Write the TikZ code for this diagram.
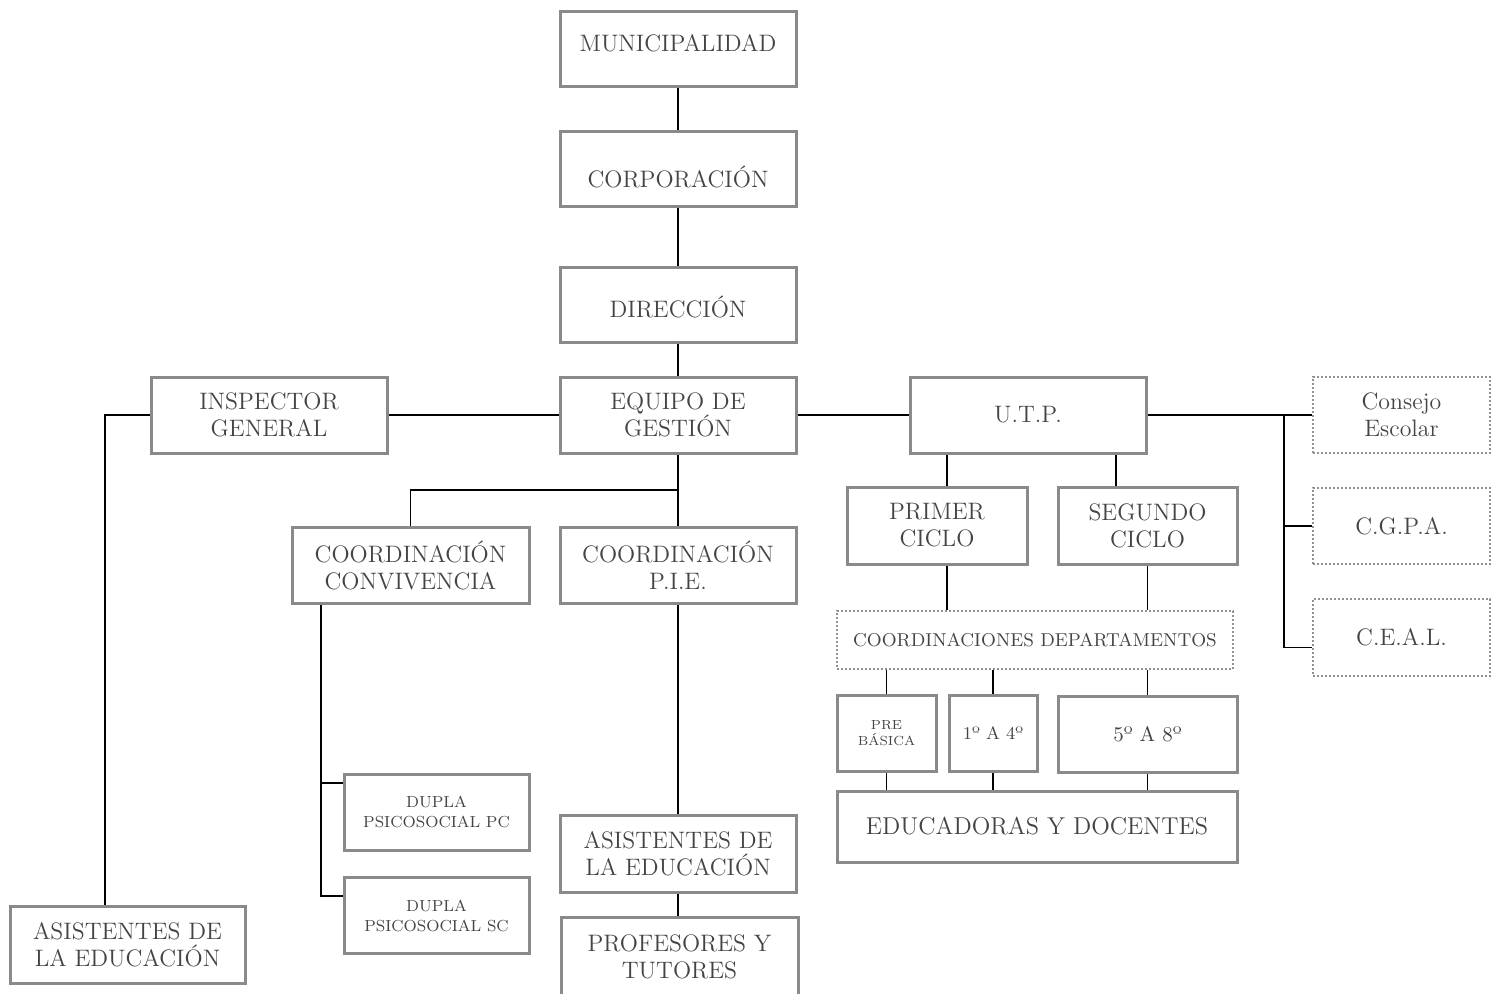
\documentclass[tikz,border=0pt]{standalone}
\usepackage{fontspec}
\definecolor{boxgray}{HTML}{8A8A8A}
\definecolor{dotgray}{HTML}{909090}
\definecolor{txtgray}{HTML}{444444}
\newcommand\mainf{\fontsize{11.9}{13.5}\selectfont}
\begin{document}
\begin{tikzpicture}[x=0.5pt,y=-0.5pt,
  box/.style={draw=boxgray, line width=1.5pt, text=txtgray, align=center, inner sep=0pt, font=\mainf, minimum width=118pt, minimum height=38pt},
  dbox/.style={box, draw=dotgray, line width=1.1pt, dash pattern=on 1pt off 1pt},
  conn/.style={line width=0.75pt, black}]
\fill[white] (0,0) rectangle (1504,993);
\useasboundingbox (0,0) rectangle (1504,993);
% top chain
\node[box, minimum height=37.5pt] (muni) at (678,49) {\raisebox{3pt}[\height][\depth]{MUNICIPALIDAD}};
\node[box, minimum height=37.5pt] (corp) at (678,168.5) {\raisebox{-4pt}[\height][\depth]{CORPORACIÓN}};
\node[box, minimum height=37.5pt] (dir) at (678,304.5) {\raisebox{-1pt}[\height][\depth]{DIRECCIÓN}};
\node[box] (equipo) at (678,415) {EQUIPO DE\\GESTIÓN};
\node[box] (insp) at (269,415) {INSPECTOR\\GENERAL};
\node[box] (utp) at (1028,415) {U.T.P.};
% right councils
\node[dbox, minimum width=88.5pt] (consejo) at (1401.5,415) {Consejo\\Escolar};
\node[dbox, minimum width=88.5pt] (cgpa) at (1401.5,526) {C.G.P.A.};
\node[dbox, minimum width=88.5pt, minimum height=38.5pt] (ceal) at (1401.5,637.5) {C.E.A.L.};
% cycles
\node[box, minimum width=90pt, minimum height=38.5pt] (primer) at (937,525.5) {PRIMER\\CICLO};
\node[box, minimum width=89.5pt, minimum height=38.5pt] (segundo) at (1147.5,525.5) {SEGUNDO\\CICLO};
\node[dbox, minimum width=198pt, minimum height=29pt, font=\fontsize{9.3}{11}\selectfont] (coorddep) at (1035,640) {COORDINACIONES DEPARTAMENTOS};
\node[box, minimum width=49.5pt, font=\fontsize{6.6}{8}\selectfont] (pre) at (886.5,733) {PRE\\BÁSICA};
\node[box, minimum width=44pt, font=\fontsize{9}{10}\selectfont] (uno) at (993,733) {1º A 4º};
\node[box, minimum width=89.5pt, font=\fontsize{10.5}{12}\selectfont] (cinco) at (1147.5,734) {5º A 8º};
\node[box, minimum width=200pt, minimum height=35.5pt, font=\fontsize{12.2}{14}\selectfont] (educ) at (1037,826.5) {EDUCADORAS Y DOCENTES};
% coordinations
\node[box, minimum width=118.5pt] (conv) at (410.5,565) {COORDINACIÓN\\CONVIVENCIA};
\node[box] (pie) at (678,565) {COORDINACIÓN\\P.I.E.};
\node[box, minimum width=92.5pt, font=\fontsize{8}{10}\selectfont] (duplapc) at (436.5,812) {DUPLA\\PSICOSOCIAL PC};
\node[box, minimum width=92.5pt, font=\fontsize{8}{10}\selectfont] (duplasc) at (436.5,915.5) {DUPLA\\PSICOSOCIAL SC};
\node[box, minimum height=38.5pt] (asist2) at (678,853.5) {ASISTENTES DE\\LA EDUCACIÓN};
\node[box, minimum width=118.5pt, minimum height=40pt] (prof) at (679.5,957) {PROFESORES Y\\TUTORES};
\node[box, minimum width=117.5pt, minimum height=38.5pt] (asist1) at (127.5,944.5) {ASISTENTES DE\\LA EDUCACIÓN};
% connectors
\draw[conn] (muni.south) -- (corp.north);
\draw[conn] (corp.south) -- (dir.north);
\draw[conn] (dir.south) -- (equipo.north);
\draw[conn] (insp.east) -- (equipo.west);
\draw[conn] (equipo.east) -- (utp.west);
\draw[conn] (equipo.south) -- (pie.north);
\coordinate (eqj) at (678,490);
\draw[conn] (eqj) -| (conv.north);
\draw[conn] (insp.west) -| ([xshift=-11.25pt]asist1.north);
% right council branch
\draw[conn] (utp.east) -- (consejo.west);
\coordinate (rj) at (1284,415);
\draw[conn] (rj) |- ([yshift=-5pt]ceal.west);
\draw[conn] (rj |- cgpa.west) -- (cgpa.west);
% cycles
\draw[conn] ([xshift=5pt]primer.north |- utp.south) -- ([xshift=5pt]primer.north);
\draw[conn] ([xshift=-15.75pt]segundo.north |- utp.south) -- ([xshift=-15.75pt]segundo.north);
\draw[conn] ([xshift=5pt]primer.south) -- ([xshift=5pt]primer.south |- coorddep.north);
\draw[conn] (segundo.south) -- (segundo.south |- coorddep.north);
\draw[conn] (pre.north |- coorddep.south) -- (pre.north);
\draw[conn] (uno.north |- coorddep.south) -- (uno.north);
\draw[conn] (cinco.north |- coorddep.south) -- (cinco.north);
\draw[conn] (pre.south) -- (pre.south |- educ.north);
\draw[conn] (uno.south) -- (uno.south |- educ.north);
\draw[conn] (cinco.south) -- (cinco.south |- educ.north);
% convivencia branch
\coordinate (cvb) at ([xshift=-44.75pt]conv.south);
\coordinate (pcb) at ([yshift=14.5pt]duplapc.west);
\coordinate (scb) at ([yshift=9.75pt]duplasc.west);
\draw[conn] (cvb) |- (scb);
\draw[conn] (cvb |- pcb) -- (pcb);
% pie chain
\draw[conn] (pie.south) -- (asist2.north);
\draw[conn] (asist2.south) -- (asist2.south |- prof.north);
\end{tikzpicture}
\end{document}
